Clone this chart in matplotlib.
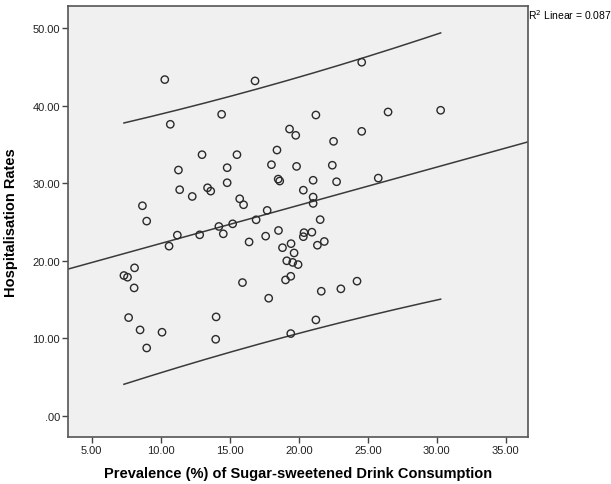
import numpy as np
import matplotlib
matplotlib.use("Agg")
import matplotlib.pyplot as plt
from matplotlib.ticker import FuncFormatter

# prevalence (%) of sugar-sweetened drink consumption vs hospitalisation rates
prevalence = [10.29, 16.83, 24.56, 10.69, 14.41, 21.24, 26.47, 30.28, 19.33, 19.78,
              24.56, 22.52, 12.99, 15.52, 18.42, 11.28, 14.81, 18.02, 19.84, 22.43,
              18.51, 18.62, 21.04, 22.74, 25.76, 14.81, 11.37, 13.39, 13.62, 12.28,
              20.33, 15.72, 16.00, 21.04, 21.04, 8.67, 8.98, 17.71, 16.91, 21.55,
              15.21, 14.21, 14.53, 11.20, 12.82, 17.60, 18.53, 20.38, 20.33, 20.95,
              10.60, 16.40, 21.85, 21.35, 19.44, 18.82, 19.66, 19.13, 19.56, 19.95,
              7.33, 7.59, 8.10, 8.07, 19.04, 19.42, 15.92, 24.22, 21.63, 23.05,
              17.82, 7.67, 14.01, 21.24, 8.50, 10.09, 13.98, 19.42, 8.98]
hosp_rate = [43.37, 43.20, 45.61, 37.60, 38.89, 38.80, 39.19, 39.41, 36.99, 36.18,
             36.69, 35.40, 33.68, 33.68, 34.28, 31.70, 32.00, 32.39, 32.17, 32.32,
             30.53, 30.28, 30.38, 30.19, 30.66, 30.06, 29.16, 29.41, 28.98, 28.29,
             29.10, 27.99, 27.22, 28.21, 27.39, 27.09, 25.11, 26.49, 25.28, 25.30,
             24.76, 24.42, 23.47, 23.30, 23.34, 23.17, 23.90, 23.62, 23.10, 23.68,
             21.88, 22.42, 22.48, 22.00, 22.20, 21.68, 21.00, 19.99, 19.78, 19.50,
             18.09, 17.87, 19.08, 16.49, 17.52, 17.99, 17.18, 17.36, 16.06, 16.37,
             15.16, 12.66, 12.75, 12.36, 11.07, 10.77, 9.86, 10.60, 8.74]

x_ticks = [5, 10, 15, 20, 25, 30, 35]
y_ticks = [0, 10, 20, 30, 40, 50]

x = np.array(prevalence)
y = np.array(hosp_rate)
n = len(x)

# linear fit + 95% prediction interval (t quantile for df=77)
slope, intercept = np.polyfit(x, y, 1)
resid = y - (intercept + slope * x)
r2 = 1 - np.sum(resid ** 2) / np.sum((y - y.mean()) ** 2)
s = np.sqrt(np.sum(resid ** 2) / (n - 2))
t_crit = 1.9913
sxx = np.sum((x - x.mean()) ** 2)

plt.rcParams["font.family"] = ["Liberation Sans", "DejaVu Sans"]

fig = plt.figure(figsize=(6.11, 4.85), dpi=100)
ax = fig.add_axes([0.1118, 0.0975, 0.7519, 0.8875])
ax.set_facecolor("#f0f0f0")

xlim = (3.30, 36.59)
ax.set_xlim(xlim)
ax.set_ylim(-2.71, 52.83)

# fit line across the whole plot, prediction band over the data range
xx = np.linspace(xlim[0], xlim[1], 200)
ax.plot(xx, intercept + slope * xx, color="#3a3a3a", lw=1.1, zorder=2)

xp = np.linspace(x.min(), x.max(), 200)
half = t_crit * s * np.sqrt(1 + 1 / n + (xp - x.mean()) ** 2 / sxx)
ax.plot(xp, intercept + slope * xp + half, color="#3a3a3a", lw=1.1, zorder=2)
ax.plot(xp, intercept + slope * xp - half, color="#3a3a3a", lw=1.1, zorder=2)

ax.scatter(x, y, s=28, facecolors="none", edgecolors="#2a2a2a", linewidths=1.0, zorder=3)

fmt = FuncFormatter(lambda v, p: ".00" if v == 0 else "%.2f" % v)
ax.set_xticks(x_ticks)
ax.set_yticks(y_ticks)
ax.xaxis.set_major_formatter(fmt)
ax.yaxis.set_major_formatter(fmt)
ax.tick_params(direction="out", length=4, width=1, colors="#444444", labelsize=8,
               labelcolor="#222222", pad=2)
for sp in ax.spines.values():
    sp.set_color("#555555")
    sp.set_linewidth(1.2)

ax.set_xlabel("Prevalence (%) of Sugar-sweetened Drink Consumption",
              fontsize=10.5, fontweight="bold", labelpad=8)
ax.set_ylabel("Hospitalisation Rates", fontsize=10.5, fontweight="bold", labelpad=10)

fig.text(0.864, 0.968, "R$^2$ Linear = %.3f" % r2, fontsize=7.5, ha="left", va="center")

fig.savefig("out.png", dpi=100)
